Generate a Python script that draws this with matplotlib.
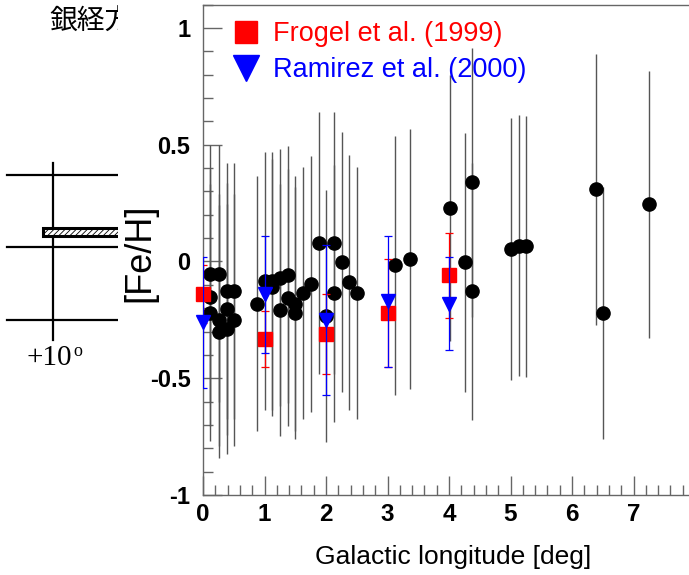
import matplotlib
matplotlib.use('Agg')
import matplotlib.pyplot as plt
from matplotlib.lines import Line2D
from matplotlib.patches import Rectangle
from matplotlib.ticker import MultipleLocator

plt.rcParams['axes.unicode_minus'] = False
plt.rcParams['font.family'] = ['Liberation Sans', 'DejaVu Sans']
plt.rcParams['hatch.linewidth'] = 0.6

# ---------------- data ----------------
# This work (black points)
lon_stars = [0.12, 0.12, 0.12, 0.265, 0.265, 0.265, 0.385, 0.385, 0.385, 0.505, 0.505,
             0.87, 1.00, 1.13, 1.13, 1.25, 1.25, 1.38, 1.38, 1.50, 1.50, 1.63, 1.755,
             1.885, 2.00, 2.135, 2.135, 2.26, 2.38, 2.51, 3.13, 3.37, 4.02, 4.26, 4.38,
             4.38, 5.01, 5.14, 5.26, 6.39, 6.51, 7.26]
feh_stars = [-0.053, -0.154, -0.22, -0.053, -0.25, -0.30, -0.127, -0.205, -0.29, -0.127, -0.25,
             -0.18, -0.084, -0.084, -0.11, -0.07, -0.208, -0.056, -0.155, -0.18, -0.22, -0.134, -0.095,
             0.08, -0.234, 0.08, -0.137, -0.003, -0.09, -0.134, -0.016, 0.011, 0.229, -0.003, 0.339,
             -0.127, 0.054, 0.068, 0.065, 0.31, -0.22, 0.244]
err_stars = [0.55, 0.55, 0.55, 0.55, 0.54, 0.54, 0.547, 0.54, 0.535, 0.547, 0.54,
             0.545, 0.553, 0.553, 0.55, 0.55, 0.54, 0.552, 0.55, 0.545, 0.54, 0.54, 0.548,
             0.56, 0.54, 0.56, 0.55, 0.556, 0.544, 0.54, 0.555, 0.557, 0.57, 0.555, 0.577,
             0.55, 0.56, 0.56, 0.56, 0.58, 0.54, 0.57]

# Frogel et al. (1999)
lon_frogel = [0, 1, 2, 3, 4]
feh_frogel = [-0.14, -0.33, -0.31, -0.22, -0.06]
err_frogel = [0.125, 0.12, 0.17, 0.23, 0.18]

# Ramirez et al. (2000)
lon_ramirez = [0, 1, 2, 3, 4]
feh_ramirez = [-0.26, -0.14, -0.25, -0.17, -0.18]
err_ramirez = [0.28, 0.25, 0.32, 0.28, 0.20]

labels = ['Frogel et al. (1999)', 'Ramirez et al. (2000)']
xticks = [0, 1, 2, 3, 4, 5, 6, 7]
xticklabels = ['0', '1', '2', '3', '4', '5', '6', '7']
yticks = [-1, -0.5, 0, 0.5, 1]
yticklabels = ['-1', '-0.5', '0', '0.5', '1']

# ---------------- figure ----------------
W, H = 689, 575
fig = plt.figure(figsize=(W / 100, H / 100), dpi=100)
fx = lambda px: px / W
fy = lambda py: 1 - py / H

# left slide fragment (partially covered by the plot canvas)
fig.text(fx(49), fy(22), '銀経方向', fontsize=20, va='center', ha='left',
         family=['Noto Sans CJK JP', 'DejaVu Sans'], zorder=1)
fig.add_artist(Line2D([fx(53), fx(53)], [fy(163), fy(340)], color='black', lw=1.6, zorder=1))
for yy in (175, 247, 320):
    fig.add_artist(Line2D([fx(7), fx(130)], [fy(yy), fy(yy)], color='black', lw=1.6, zorder=1))
fig.add_artist(Rectangle((fx(43), fy(236)), fx(130) - fx(43), fy(228) - fy(236),
                         transform=fig.transFigure, facecolor='white', edgecolor='black',
                         lw=2.2, hatch='//////', zorder=1.1))
fig.text(fx(27), fy(358), '+10', fontsize=21, family='Liberation Serif', va='center', ha='left', zorder=1)
fig.text(fx(73), fy(351), 'o', fontsize=13, family='Liberation Serif', va='center', ha='left', zorder=1)

# white canvas of the plot
fig.add_artist(Rectangle((fx(118), 0), 1, 1, transform=fig.transFigure,
                         facecolor='white', edgecolor='none', zorder=2))

ax = fig.add_axes([fx(203), 80 / H, 492 / W, 490.4 / H])
ax.set_zorder(3)
ax.set_xlim(0, 8)
ax.set_ylim(-1, 1.1)

axcol = '#666666'
for s in ax.spines.values():
    s.set_color(axcol)
    s.set_linewidth(1.0)

ax.set_xticks(xticks, xticklabels, fontweight='bold', fontsize=17.5)
ax.set_yticks(yticks, yticklabels, fontweight='bold', fontsize=17)
ax.xaxis.set_minor_locator(MultipleLocator(0.2))
ax.yaxis.set_minor_locator(MultipleLocator(0.1))
ax.tick_params(which='both', direction='in', color=axcol, width=1.0, top=False, right=False)
ax.tick_params(which='major', length=14)
ax.tick_params(which='minor', length=7)
ax.tick_params(axis='x', pad=6)
ax.tick_params(axis='y', pad=9)

c1 = ax.errorbar(lon_stars, feh_stars, yerr=err_stars, fmt='o', ms=9.5, mfc='black', mec='black',
                 ecolor='#555555', elinewidth=1.0, capsize=0, zorder=3)
c2 = ax.errorbar(lon_frogel, feh_frogel, yerr=err_frogel, fmt='s', ms=9.5, mfc='red', mec='red',
                 ecolor='red', elinewidth=0.9, capsize=3, capthick=0.9, zorder=4)
c3 = ax.errorbar(lon_ramirez, feh_ramirez, yerr=err_ramirez, fmt='v', ms=9.5, mfc='blue', mec='blue',
                 ecolor='blue', elinewidth=0.9, capsize=3, capthick=0.9, zorder=5)
for c in (c1, c2, c3):
    c.lines[0].set_clip_on(False)

handles = [Line2D([], [], marker='s', color='red', ls='none', ms=16.5),
           Line2D([], [], marker='v', color='blue', ls='none', ms=19)]
leg = ax.legend(handles, labels, loc='upper left', bbox_to_anchor=(fx(232), fy(21)),
                bbox_transform=fig.transFigure, frameon=False, fontsize=19.5,
                handlelength=1.0, handletextpad=0.5, labelspacing=0.38,
                borderpad=0, borderaxespad=0)
for t, col in zip(leg.get_texts(), ['red', 'blue']):
    t.set_color(col)

ax.set_xlabel('Galactic longitude [deg]', fontsize=19, va='center')
ax.xaxis.set_label_coords((453 - 203) / 492, (495 - 557) / 490.4)
ax.set_ylabel('[Fe/H]', fontsize=26, va='center')
ax.yaxis.set_label_coords((140 - 203) / 492, (495 - 253) / 490.4)

fig.savefig('out.png', dpi=100)
